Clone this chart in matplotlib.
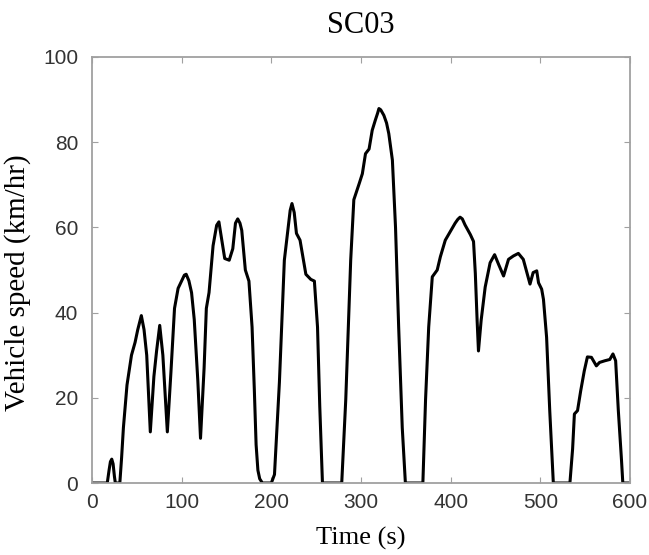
import matplotlib.pyplot as plt

# SC03 speed trace
time_s = [0, 17, 19, 20.5, 22, 23.5, 25, 26, 31, 33, 35, 39, 44, 48, 51, 55,
          58, 61, 65, 69, 72, 75.5, 79, 84, 88, 92, 96, 100, 103, 105, 108,
          111, 114, 118, 121, 125, 127.5, 130.5, 135, 139, 141.5, 144, 148,
          153, 157, 160, 162.5, 165, 167, 171, 175, 178.5, 181, 183, 185,
          187, 190, 200, 203.5, 209, 214.5, 218, 221, 223, 225.5, 228, 232,
          238.5, 244, 248, 251.5, 254, 257, 278.5, 283, 288.5, 292, 298,
          301.5, 305, 309, 312.5, 316, 318.5, 320, 322, 325.5, 328.5, 331,
          335, 338.5, 342, 346, 349.5, 369, 372, 375.5, 379.5, 385, 388.5,
          394, 399.5, 405, 408, 410.5, 413, 416, 422, 425.5, 427.5, 429.5,
          431, 434, 438.5, 444, 449, 453.5, 459, 464.5, 470, 475.5, 481,
          485, 488.5, 492, 496, 498, 501.5, 503.5, 507, 510.5, 514.5, 533,
          536, 538, 541.5, 545, 549, 552.5, 557, 562.5, 566, 572, 577.5,
          581, 584, 587, 590.5, 592, 600]
speed_kmh = [0, 0, 3, 5, 5.6, 4.5, 1.5, 0, 0, 6, 13, 23, 30, 33, 36, 39.3,
             36, 30, 12, 25, 31, 37, 30, 12, 26, 41, 45.7, 47.5, 48.8, 49,
             47.5, 44.7, 38.4, 24, 10.5, 27, 41, 44.7, 55.7, 60.5, 61.3, 58,
             52.7, 52.3, 55, 61, 62, 61, 59.3, 50, 47.4, 36.6, 22, 9, 3,
             1, 0, 0, 2, 23.7, 52.3, 58.6, 64, 65.6, 63.5, 58.6, 57, 49,
             47.8, 47.4, 36.6, 18, 0, 0, 19.6, 52.3, 66.5, 70.3, 72.6, 77.3,
             78.4, 82.8, 85.2, 86.8, 87.9, 87.6, 86.3, 84.5, 82, 75.8, 60,
             36.6, 13, 0, 0, 19.6, 36.6, 48.4, 50, 53.1, 57, 59, 61, 61.9,
             62.4, 62, 60.6, 58.3, 56.7, 49.2, 38.2, 31, 38.2, 46, 51.7,
             53.6, 51.3, 48.6, 52.5, 53.3, 53.9, 52.5, 49.4, 46.7, 49.4,
             49.8, 47, 45.5, 43.1, 34.2, 17, 0, 0, 8, 16.2, 17, 21.6, 26.3,
             29.6, 29.5, 27.5, 28.3, 28.7, 29, 30.3, 28.7, 17, 5.5, 0, 0]

x_ticks = [0, 100, 200, 300, 400, 500, 600]
y_ticks = [0, 20, 40, 60, 80, 100]

fig = plt.figure(figsize=(6.49, 5.55), dpi=100)
ax = fig.add_axes([0.1418, 0.1297, 0.8289, 0.7676])

ax.plot(time_s, speed_kmh, color='black', linewidth=2.2,
        solid_joinstyle='round', solid_capstyle='round')

ax.set_xlim(0, 600)
ax.set_ylim(0, 100)
ax.set_xticks(x_ticks)
ax.set_yticks(y_ticks)

for side in ax.spines.values():
    side.set_color('#a0a0a0')
    side.set_linewidth(1.3)
ax.tick_params(direction='in', length=4, color='#a0a0a0', top=True, right=True,
               labelsize=15, labelcolor='#333333')
ax.tick_params(axis='x', pad=7)
ax.tick_params(axis='y', pad=10)
for lbl in ax.get_xticklabels() + ax.get_yticklabels():
    lbl.set_family('Liberation Sans')

ax.set_title('SC03', family='Liberation Serif', fontsize=22, pad=17)
ax.set_xlabel('Time (s)', family='Liberation Serif', fontsize=19, labelpad=11)
ax.set_ylabel('Vehicle speed (km/hr)', family='Liberation Serif', fontsize=21)
ax.yaxis.set_label_coords(-0.113, 0.47)

fig.savefig('out.png', dpi=100)
